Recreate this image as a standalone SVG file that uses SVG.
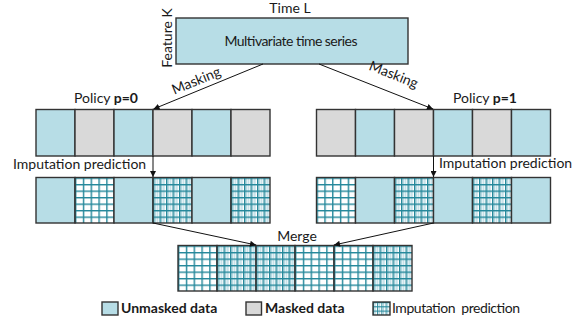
<svg xmlns="http://www.w3.org/2000/svg" width="585" height="322" viewBox="0 0 585 322">
  <defs>
    <style>
      text { font-family: Lato, "Open Sans", "Liberation Sans", sans-serif; fill: #1a1a1a; }
      .lbl { font-size: 14px; }
      .b { font-weight: bold; }
      .cell { stroke: #333; stroke-width: 1.4; }
      .u { fill: #b7dde6; }
      .m { fill: #d9d9d9; }
      .g { fill: url(#grid); }
      .d { fill: url(#dense); }
      .conn { stroke: #111; stroke-width: 1; fill: none; marker-end: url(#arrow); }
    </style>
    <marker id="arrow" viewBox="0 0 10 10" refX="10" refY="5" markerWidth="6.5" markerHeight="6" markerUnits="userSpaceOnUse" orient="auto">
      <path d="M0,0 L10,5 L0,10 z" fill="#111"/>
    </marker>
    <!-- sparse imputation grid, tiled per cell -->
    <pattern id="grid" patternUnits="objectBoundingBox" width="0.2" height="0.14286">
      <rect width="8" height="7" fill="#fff"/>
      <path d="M0.7,0 V7 M0,0.7 H8" stroke="#23879a" stroke-width="1.4"/>
    </pattern>
    <!-- dense imputation grid with light stripes -->
    <pattern id="dense" patternUnits="objectBoundingBox" width="0.16667" height="0.14286">
      <rect width="7" height="7" fill="#fff"/>
      <path d="M2.4,0 V7 M4.5,0 V7" stroke="#a9d3de" stroke-width="1.1"/>
      <path d="M0.7,0 V7 M0,0.7 H7" stroke="#23879a" stroke-width="1.4"/>
    </pattern>
    <pattern id="icon" patternUnits="userSpaceOnUse" x="373" y="302" width="4.2" height="4.3">
      <rect width="5" height="5" fill="#fff"/>
      <path d="M2.2,0 V5" stroke="#a9d3de" stroke-width="0.9"/>
      <path d="M0.5,0 V5 M0,0.5 H5" stroke="#23879a" stroke-width="1"/>
    </pattern>
  </defs>

  <!-- source series -->
  <g id="series">
    <rect x="176" y="18" width="232" height="46" class="cell u"/>
    <text x="291" y="46" class="lbl" text-anchor="middle" textLength="133">Multivariate time series</text>
    <text x="290" y="13" class="lbl" text-anchor="middle">Time L</text>
    <text transform="translate(172,38) rotate(-90)" class="lbl" text-anchor="middle">Feature K</text>
  </g>

  <!-- policy p=0 mask -->
  <g id="policy0">
    <text x="74" y="103" class="lbl">Policy <tspan class="b">p=0</tspan></text>
    <rect x="36" y="109.5" width="39" height="46.5" class="cell u"/>
    <rect x="75" y="109.5" width="39" height="46.5" class="cell m"/>
    <rect x="114" y="109.5" width="39" height="46.5" class="cell u"/>
    <rect x="153" y="109.5" width="39" height="46.5" class="cell m"/>
    <rect x="192" y="109.5" width="39" height="46.5" class="cell u"/>
    <rect x="231" y="109.5" width="39" height="46.5" class="cell m"/>
  </g>

  <!-- policy p=1 mask -->
  <g id="policy1">
    <text x="453" y="103" class="lbl">Policy <tspan class="b">p=1</tspan></text>
    <rect x="316.5" y="109.5" width="39" height="46.5" class="cell m"/>
    <rect x="355.5" y="109.5" width="39" height="46.5" class="cell u"/>
    <rect x="394.5" y="109.5" width="39" height="46.5" class="cell m"/>
    <rect x="433.5" y="109.5" width="39" height="46.5" class="cell u"/>
    <rect x="472.5" y="109.5" width="39" height="46.5" class="cell m"/>
    <rect x="511.5" y="109.5" width="39" height="46.5" class="cell u"/>
  </g>

  <!-- imputed sequence, p=0 -->
  <g id="imputed0">
    <text x="13" y="169" class="lbl">Imputation prediction</text>
    <rect x="36" y="177.5" width="39" height="45.5" class="cell u"/>
    <rect x="75" y="177.5" width="39" height="45.5" class="cell g"/>
    <rect x="114" y="177.5" width="39" height="45.5" class="cell u"/>
    <rect x="153" y="177.5" width="39" height="45.5" class="cell d"/>
    <rect x="192" y="177.5" width="39" height="45.5" class="cell u"/>
    <rect x="231" y="177.5" width="39" height="45.5" class="cell d"/>
  </g>

  <!-- imputed sequence, p=1 -->
  <g id="imputed1">
    <text x="439" y="168" class="lbl">Imputation prediction</text>
    <rect x="316.5" y="177.5" width="39" height="45.5" class="cell g"/>
    <rect x="355.5" y="177.5" width="39" height="45.5" class="cell u"/>
    <rect x="394.5" y="177.5" width="39" height="45.5" class="cell d"/>
    <rect x="433.5" y="177.5" width="39" height="45.5" class="cell u"/>
    <rect x="472.5" y="177.5" width="39" height="45.5" class="cell d"/>
    <rect x="511.5" y="177.5" width="39" height="45.5" class="cell u"/>
  </g>

  <!-- merged result -->
  <g id="merge">
    <text x="297" y="241" class="lbl" text-anchor="middle">Merge</text>
    <rect x="178" y="245.5" width="39" height="45.5" class="cell g"/>
    <rect x="217" y="245.5" width="39" height="45.5" class="cell d"/>
    <rect x="256" y="245.5" width="39" height="45.5" class="cell d"/>
    <rect x="295" y="245.5" width="39" height="45.5" class="cell g"/>
    <rect x="334" y="245.5" width="39" height="45.5" class="cell g"/>
    <rect x="373" y="245.5" width="39" height="45.5" class="cell d"/>
  </g>

  <!-- connectors -->
  <g id="connectors">
    <line x1="263" y1="64" x2="153.5" y2="109" class="conn"/>
    <line x1="319" y1="64" x2="433" y2="109" class="conn"/>
    <line x1="153" y1="156" x2="153" y2="177" class="conn"/>
    <line x1="433.5" y1="156" x2="433.5" y2="177" class="conn"/>
    <line x1="153" y1="223" x2="256" y2="245" class="conn"/>
    <line x1="433.5" y1="223" x2="334" y2="245" class="conn"/>
    <text transform="translate(198,85) rotate(-22.3)" class="lbl" text-anchor="middle">Masking</text>
    <text transform="translate(392,79) rotate(21.5)" class="lbl" text-anchor="middle">Masking</text>
  </g>

  <!-- legend -->
  <g id="legend">
    <rect x="102" y="302" width="16" height="13" class="cell u"/>
    <text x="121" y="313" class="lbl b">Unmasked data</text>
    <rect x="246" y="302" width="15.5" height="13" class="cell m"/>
    <text x="265" y="313" class="lbl b">Masked data</text>
    <rect x="373" y="302" width="17" height="13" fill="url(#icon)" class="cell"/>
    <text x="392" y="313" class="lbl" xml:space="preserve" textLength="128">Imputation  prediction</text>
  </g>
</svg>
